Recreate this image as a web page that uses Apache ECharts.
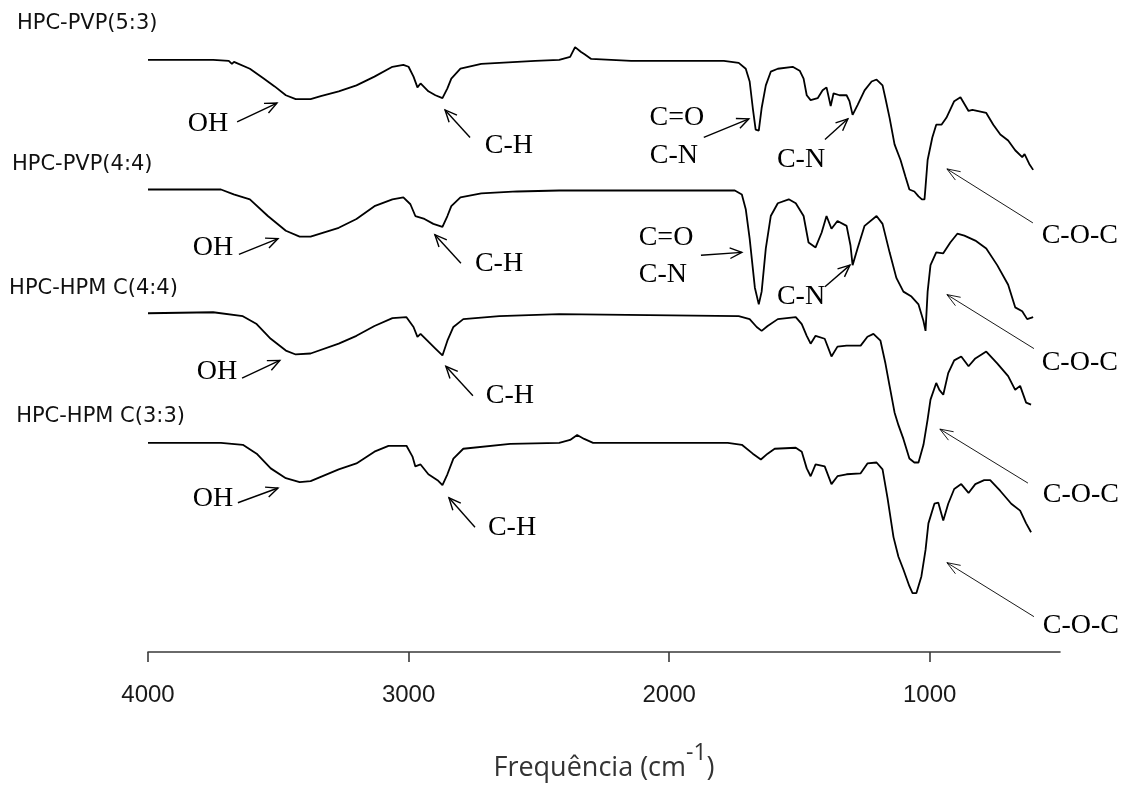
<!DOCTYPE html>
<html>
<head>
<meta charset="utf-8">
<script src="https://cdn.jsdelivr.net/npm/echarts@6/dist/echarts.min.js"></script>
<style>
html,body{margin:0;padding:0;background:#fff;}
#c{width:1124px;height:787px;}
</style>
</head>
<body>
<div id="c"></div>
<script>
// ---- data: [wavenumber (cm-1), offset transmittance (a.u.)] ----
const seriesNames = ['HPC-PVP(5:3)', 'HPC-PVP(4:4)', 'HPC-HPM C(4:4)', 'HPC-HPM C(3:3)'];

const pvp53 = [[4000,603],[3750,603],[3690,602],[3678,599],[3670,601],[3609,594],[3556,584],[3514,576],[3471,567],[3433,563],[3376,563],[3337,566],[3268,571],[3200,577],[3131,586],[3062,596],[3020,598],[3000,596],[2981,586],[2966,575],[2954,579],[2924,571],[2897,567],[2870,564],[2851,574],[2836,584],[2801,594],[2721,599],[2514,602],[2422,603],[2380,606],[2361,616],[2338,611],[2326,609],[2299,604],[2146,602],[1790,602],[1733,600],[1706,594],[1691,581],[1679,554],[1668,532],[1656,531],[1645,554],[1629,577],[1610,591],[1583,594],[1526,596],[1499,592],[1484,584],[1472,567],[1457,562],[1430,564],[1411,572],[1396,575],[1380,556],[1369,569],[1346,567],[1319,567],[1308,561],[1296,547],[1277,557],[1250,572],[1223,581],[1204,583],[1181,577],[1170,564],[1154,544],[1135,517],[1112,501],[1093,484],[1078,471],[1059,469],[1043,464],[1030,461],[1020,461],[1016,474],[1008,501],[990,524],[975,537],[955,537],[936,544],[906,561],[882,565],[851,551],[836,552],[783,549],[756,537],[729,527],[699,521],[672,511],[645,504],[636,507],[618,497],[603,491]];

const pvp44 = [[4000,471],[3720,471],[3671,466],[3609,461],[3540,444],[3471,429],[3418,423],[3376,423],[3268,432],[3200,441],[3131,454],[3062,461],[3020,463],[2993,456],[2974,444],[2939,441],[2905,436],[2870,433],[2851,444],[2836,454],[2801,463],[2721,467],[2583,469],[2422,470],[1748,470],[1721,466],[1706,451],[1691,421],[1671,371],[1656,354],[1645,367],[1629,411],[1610,444],[1583,457],[1541,461],[1514,457],[1484,444],[1465,417],[1438,412],[1415,427],[1396,444],[1377,431],[1354,439],[1319,434],[1304,414],[1296,394],[1277,411],[1250,434],[1204,444],[1181,436],[1154,407],[1128,381],[1101,367],[1070,362],[1043,354],[1024,337],[1016,327],[1008,367],[997,394],[975,407],[948,406],[921,417],[894,426],[867,424],[825,419],[783,411],[741,394],[699,374],[672,351],[645,347],[626,339],[603,341]];

const hpmc44 = [[4000,345],[3750,346],[3636,342],[3583,334],[3529,319],[3471,307],[3433,303],[3376,304],[3268,314],[3200,322],[3131,332],[3062,340],[3008,341],[2981,331],[2966,321],[2954,324],[2924,316],[2897,309],[2870,302],[2851,317],[2828,331],[2790,339],[2652,342],[2422,344],[1733,342],[1691,339],[1664,331],[1645,327],[1622,332],[1583,339],[1514,341],[1491,334],[1472,322],[1457,314],[1438,322],[1403,319],[1377,301],[1354,311],[1319,312],[1265,312],[1239,321],[1216,324],[1189,317],[1170,294],[1154,271],[1135,244],[1120,231],[1101,217],[1078,197],[1059,193],[1043,193],[1024,211],[1008,237],[997,257],[975,274],[963,267],[948,262],[929,284],[906,297],[879,301],[851,291],[825,299],[783,306],[741,294],[699,281],[672,267],[653,271],[630,254],[611,252]];

const hpmc33 = [[4000,213],[3720,213],[3636,211],[3583,202],[3529,187],[3471,177],[3418,173],[3376,174],[3268,186],[3200,192],[3131,204],[3077,210],[3008,210],[2985,199],[2974,189],[2954,191],[2924,181],[2889,175],[2870,170],[2851,181],[2828,197],[2790,207],[2610,212],[2422,213],[2380,216],[2353,221],[2326,217],[2292,213],[1775,213],[1721,211],[1679,202],[1648,196],[1622,202],[1595,207],[1514,208],[1491,204],[1472,187],[1457,179],[1438,191],[1403,189],[1377,171],[1354,179],[1319,181],[1265,182],[1239,192],[1204,193],[1181,186],[1162,157],[1139,117],[1120,97],[1101,84],[1078,67],[1066,60],[1051,60],[1032,77],[1016,104],[1005,131],[982,151],[967,152],[948,134],[929,151],[906,166],[879,171],[851,162],[825,171],[791,175],[768,175],[729,164],[687,151],[653,144],[630,131],[611,122]];

const tickValues = [4000, 3000, 2000, 1000];

// series name labels: [wavenumber, value] of left/middle anchor
const nameAnchors = [[4503,640],[4522,496],[4533,370],[4506,240]];

// band labels: text, [wavenumber, value] centre
const bandTexts = [
  ['OH',[3770,538]],['C-H',[2615,516]],['C=O',[1970,544]],['C-N',[1982,505]],['C-N',[1494,501]],['C-O-C',[424,424]],
  ['OH',[3751,412]],['C-H',[2653,396]],['C=O',[2012,422]],['C-N',[2024,384]],['C-N',[1494,362]],['C-O-C',[424,295]],
  ['OH',[3735,286]],['C-H',[2611,261]],['C-O-C',[420,160]],
  ['OH',[3751,156]],['C-H',[2603,127]],['C-O-C',[420,27]]
];
// arrows: [tail, head, thin?]
const bandArrows = [
  [[3658,540],[3505,559],0],[[2764,524],[2860,552],0],[[1867,524],[1694,543],0],[[1402,522],[1314,543],0],[[604,437],[934,492],1],
  [[3651,405],[3501,421],0],[[2799,396],[2899,425],0],[[1878,404],[1721,407],0],[[1402,372],[1306,394],0],[[600,309],[934,364],1],
  [[3639,279],[3494,297],0],[[2753,261],[2857,291],0],[[623,172],[961,227],1],
  [[3655,152],[3501,167],0],[[2745,127],[2845,157],0],[[600,36],[934,91],1]
];

const spectra = [pvp53, pvp44, hpmc44, hpmc33];

const chart = echarts.init(document.getElementById('c'));
const option = {
  backgroundColor: '#ffffff',
  animation: false,
  grid: {left: 148, right: 64, top: 0, bottom: 123, containLabel: false},
  xAxis: {
    type: 'value', inverse: true, min: 500, max: 4000,
    axisLine: {show: true, lineStyle: {color: '#3a3a3a', width: 1.6}},
    axisTick: {show: true, length: 10, lineStyle: {color: '#3a3a3a', width: 1.6}, customValues: tickValues},
    axisLabel: {show: true, customValues: tickValues, margin: 31, color: '#1a1a1a', fontSize: 24,
      fontFamily: '"Liberation Sans", Arial, sans-serif', formatter: v => String(v)},
    splitLine: {show: false},
    name: '{a|Frequência (cm}{s|-1}{a|)}',
    nameLocation: 'middle',
    nameGap: 90,
    nameTextStyle: {
      rich: {
        a: {fontSize: 27, fontFamily: '"Open Sans", sans-serif', color: '#333', lineHeight: 40, verticalAlign: 'bottom'},
        s: {fontSize: 23, fontFamily: '"Open Sans", sans-serif', color: '#333', lineHeight: 40, verticalAlign: 'top'}
      }
    }
  },
  yAxis: {type: 'value', min: 0, max: 664, show: false},
  series: spectra.map((d, i) => ({
    name: seriesNames[i], type: 'line', data: d, showSymbol: false, symbol: 'none',
    lineStyle: {color: '#000', width: 1.8}, smooth: false
  }))
};
chart.setOption(option);

function px(p){ return chart.convertToPixel({gridIndex: 0}, p); }
const graphics = [];
seriesNames.forEach((n, i) => {
  const p = px(nameAnchors[i]);
  graphics.push({type: 'text', x: p[0], y: p[1], z: 10,
    style: {text: n, fontSize: 21, fontFamily: '"DejaVu Sans", sans-serif', fill: '#111', align: 'left', verticalAlign: 'middle'}});
});
bandTexts.forEach(t => {
  const p = px(t[1]);
  graphics.push({type: 'text', x: p[0], y: p[1], z: 10,
    style: {text: t[0], fontSize: 28, fontFamily: '"Liberation Serif", serif', fill: '#000', align: 'center', verticalAlign: 'middle'}});
});
bandArrows.forEach(a => {
  const t = px(a[0]), h = px(a[1]);
  const thin = a[2] === 1;
  const dx = h[0] - t[0], dy = h[1] - t[1];
  const len = Math.hypot(dx, dy);
  const ux = dx / len, uy = dy / len;
  const L = thin ? 14 : 13, ang = thin ? 0.36 : 0.42;
  const rot = (s) => [ux * Math.cos(s) - uy * Math.sin(s), ux * Math.sin(s) + uy * Math.cos(s)];
  const r1 = rot(ang), r2 = rot(-ang);
  const lw = thin ? 0.9 : 1.4;
  graphics.push({type: 'polyline', z: 10, shape: {points: [t, h]}, style: {stroke: '#000', lineWidth: lw, fill: null}});
  graphics.push({type: 'polyline', z: 10, shape: {points: [[h[0] - L * r1[0], h[1] - L * r1[1]], h, [h[0] - L * r2[0], h[1] - L * r2[1]]]}, style: {stroke: '#000', lineWidth: lw, fill: null}});
});
chart.setOption({graphic: graphics});
</script>
</body>
</html>
